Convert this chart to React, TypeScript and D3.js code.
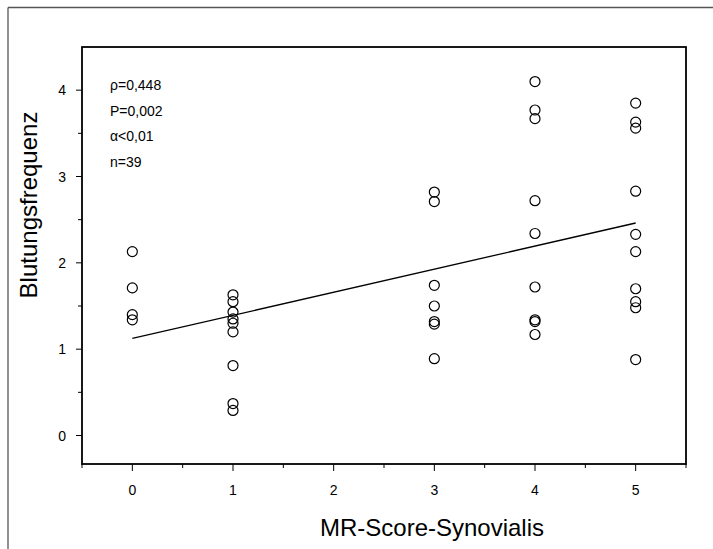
import React from "react";
import * as d3 from "d3";

const xCategories = [0, 1, 2, 3, 4, 5];
const yTicks = [0, 1, 2, 3, 4];
const score0 = [2.13, 1.71, 1.4, 1.34];
const score1 = [1.63, 1.55, 1.43, 1.35, 1.3, 1.2, 0.81, 0.37, 0.29];
const score3 = [2.82, 2.71, 1.74, 1.5, 1.32, 1.29, 0.89];
const score4 = [4.1, 3.77, 3.67, 2.72, 2.34, 1.72, 1.34, 1.32, 1.17];
const score5 = [3.85, 3.63, 3.56, 2.83, 2.33, 2.13, 1.7, 1.55, 1.48, 0.88];
const statsLines = ["ρ=0,448", "P=0,002", "α<0,01", "n=39"];
const xTitle = "MR-Score-Synovialis";
const yTitle = "Blutungsfrequenz";

const groups: [number, number[]][] = [
  [0, score0],
  [1, score1],
  [3, score3],
  [4, score4],
  [5, score5],
];

export default function App() {
  const W = 713, H = 549;
  const left = 82, right = 686, top = 47, bottom = 464;
  const font = "'Liberation Sans', Arial, Helvetica, sans-serif";

  const x = d3.scaleLinear().domain([-0.5, 5.5]).range([left, right]);
  const y = d3.scaleLinear().domain([-0.33, 4.5]).range([bottom, top]);

  const points = groups.flatMap(([g, vals]) => vals.map((v) => ({ x: g, y: v })));

  // least squares regression
  const mx = d3.mean(points, (p) => p.x) as number;
  const my = d3.mean(points, (p) => p.y) as number;
  const sxy = d3.sum(points, (p) => (p.x - mx) * (p.y - my));
  const sxx = d3.sum(points, (p) => (p.x - mx) * (p.x - mx));
  const slope = sxy / sxx;
  const intercept = my - slope * mx;
  const line = d3
    .line<number>()
    .x((d) => x(d))
    .y((d) => y(intercept + slope * d));

  const xMinor = d3.range(-0.5, 5.51, 0.5).filter((v) => !xCategories.includes(v));
  const yMinor = d3.range(0.5, 4.5, 1);

  return (
    <svg
      width={W}
      height={H}
      style={{ position: "absolute", left: 0, top: 0, background: "#fff" }}
      fontFamily={font}
    >
      <rect x={0} y={0} width={W} height={H} fill="#fff" />
      {/* outer frame */}
      <line x1={8} y1={7.5} x2={W} y2={7.5} stroke="#555" strokeWidth={1.3} />
      <line x1={8} y1={7.5} x2={8} y2={H} stroke="#555" strokeWidth={1.3} />

      {/* plot frame */}
      <rect
        x={left}
        y={top}
        width={right - left}
        height={bottom - top}
        fill="none"
        stroke="#000"
        strokeWidth={1.8}
      />

      {/* x ticks */}
      {xCategories.map((v) => (
        <g key={"xt" + v}>
          <line x1={x(v)} x2={x(v)} y1={bottom} y2={bottom + 7} stroke="#000" strokeWidth={1} />
          <text x={x(v)} y={bottom + 31} fontSize={14} textAnchor="middle" fill="#000">
            {v}
          </text>
        </g>
      ))}
      {xMinor.map((v) => (
        <line key={"xm" + v} x1={x(v)} x2={x(v)} y1={bottom} y2={bottom + 4} stroke="#000" strokeWidth={1} />
      ))}

      {/* y ticks */}
      {yTicks.map((v) => (
        <g key={"yt" + v}>
          <line x1={left - 6} x2={left} y1={y(v)} y2={y(v)} stroke="#000" strokeWidth={1} />
          <text x={left - 16} y={y(v) + 5} fontSize={14} textAnchor="end" fill="#000">
            {v}
          </text>
        </g>
      ))}
      {yMinor.map((v) => (
        <line key={"ym" + v} x1={left - 4} x2={left} y1={y(v)} y2={y(v)} stroke="#000" strokeWidth={1} />
      ))}

      {/* regression line */}
      <path d={line([0, 5]) || ""} fill="none" stroke="#000" strokeWidth={1.3} />

      {/* points */}
      {points.map((p, i) => (
        <circle key={i} cx={x(p.x)} cy={y(p.y)} r={5} fill="none" stroke="#000" strokeWidth={1.2} />
      ))}

      {/* stats text */}
      {statsLines.map((s, i) => (
        <text key={s} x={110} y={90 + i * 25.7} fontSize={14} fill="#000">
          {s}
        </text>
      ))}

      {/* axis titles */}
      <text x={432} y={536} fontSize={24} textAnchor="middle" fill="#000">
        {xTitle}
      </text>
      <text
        transform={`translate(37, 205) rotate(-90)`}
        fontSize={24}
        textAnchor="middle"
        fill="#000"
      >
        {yTitle}
      </text>
    </svg>
  );
}
